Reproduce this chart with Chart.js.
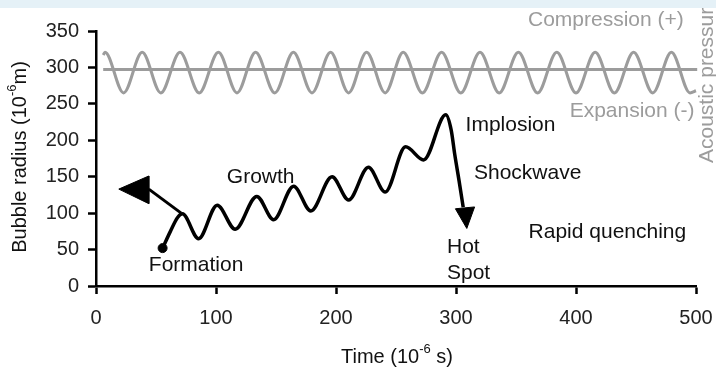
<!DOCTYPE html>
<html><head><meta charset="utf-8">
<script src="https://cdn.jsdelivr.net/npm/chart.js@4"></script>
<style>html,body{margin:0;padding:0;background:#fff;}#wrap{width:716px;height:369px;}</style>
</head><body><div id="wrap"><canvas id="c" width="716" height="369"></canvas></div>
<script>
// ---- data ----
const xTickValues = [0, 100, 200, 300, 400, 500];
const yTickValues = [0, 50, 100, 150, 200, 250, 300, 350];

// acoustic pressure wave (peaks / troughs)
const pressureTime  = [6, 7.5, 23, 38.5, 54, 70, 86, 102, 117.5, 133, 149, 164.5, 180, 195.5, 210.5, 225.5, 241, 256, 272, 288, 304, 320, 336, 352, 368, 384, 400, 416, 432, 448, 464, 479.5, 495, 500];
const pressureValue = [317, 321, 265, 321, 265, 321, 265, 321, 265, 321, 265, 321, 265, 321, 265, 321, 265, 321, 265, 321, 265, 321, 265, 321, 265, 321, 265, 321, 265, 321, 265, 321, 265, 268];
const baselineTime  = [6, 501];
const baselineValue = [297, 297];

// bubble radius
const radiusTime  = [55.5, 62, 68, 72, 85.5, 101, 116, 134, 148, 164.7, 179, 196.7, 210.5, 227, 241, 258, 273, 291.5, 296, 299, 302.5, 306];
const radiusValue = [52, 75, 94, 99, 65, 111, 78, 123, 91, 137, 103, 150, 118, 163, 129, 191, 173, 235, 214, 180, 145, 108];

const formationTime  = [55.5];
const formationValue = [52];
const growthArrowTime  = [71, 44];
const growthArrowValue = [100, 133];
const growthHeadTime   = [19, 44, 44, 19];
const growthHeadValue  = [133, 151, 113, 133];
const hotHeadTime  = [309, 299.5, 315.5, 309];
const hotHeadValue = [79, 106, 108.5, 79];

// annotations
const noteText  = ['Growth', 'Formation', 'Implosion', 'Shockwave', 'Rapid quenching', 'Hot', 'Spot'];
const noteTime  = [109, 44, 308, 315, 360.5, 292.5, 292.5];
const noteValue = [149, 28.5, 221, 154.6, 74.3, 53.6, 17];
const pressureNoteText  = ['Compression (+)', 'Expansion (-)'];
const pressureNoteTime  = [360, 394.7];
const pressureNoteValue = [365.5, 239.3];

const FONT = '"Liberation Sans", Arial, Helvetica, sans-serif';
const GRAY = '#9c9c9c';

function pts(xs, ys) { return xs.map((x, i) => ({x, y: ys[i]})); }

function drawRich(ctx, parts, x, y) {
  let total = 0;
  parts.forEach(p => { ctx.font = p[1] + 'px ' + FONT; total += ctx.measureText(p[0]).width; });
  let cx = x - total / 2;
  parts.forEach(p => {
    ctx.font = p[1] + 'px ' + FONT;
    ctx.fillText(p[0], cx, y + p[2]);
    cx += ctx.measureText(p[0]).width;
  });
}

const textPlugin = {
  id: 'texts',
  afterDraw(chart) {
    const ctx = chart.ctx, xs = chart.scales.x, ys = chart.scales.y;
    ctx.save();
    ctx.textBaseline = 'middle';
    ctx.textAlign = 'left';
    ctx.fillStyle = '#111';
    ctx.font = '21px ' + FONT;
    noteText.forEach((t, i) => ctx.fillText(t, xs.getPixelForValue(noteTime[i]), ys.getPixelForValue(noteValue[i])));
    ctx.fillStyle = GRAY;
    pressureNoteText.forEach((t, i) => ctx.fillText(t, xs.getPixelForValue(pressureNoteTime[i]), ys.getPixelForValue(pressureNoteValue[i])));

    // axis titles
    ctx.fillStyle = '#111';
    drawRich(ctx, [['Time (10', 20, 0], ['-6', 13, -8], [' s)', 20, 0]], 397, 357);
    ctx.save();
    ctx.translate(20, 157);
    ctx.rotate(-Math.PI / 2);
    drawRich(ctx, [['Bubble radius (10', 20, 0], ['-6', 13, -8], ['m)', 20, 0]], 0, 0);
    ctx.restore();
    ctx.save();
    ctx.fillStyle = GRAY;
    ctx.translate(707, 163);
    ctx.rotate(-Math.PI / 2);
    ctx.textAlign = 'left';
    ctx.font = '21px ' + FONT;
    ctx.fillText('Acoustic pressure', 0, 0);
    ctx.restore();
    // top band
    ctx.fillStyle = '#e5f1f7';
    ctx.fillRect(0, 0, chart.width, 8);
    ctx.restore();
  }
};

const axisCommon = {
  border: {color: '#000', width: 2.5},
  grid: {drawOnChartArea: false, drawTicks: true, tickLength: 8, tickColor: '#000', tickWidth: 2.5},
  ticks: {font: {family: FONT, size: 20}, color: '#222'}
};

new Chart(document.getElementById('c'), {
  type: 'scatter',
  data: {
    datasets: [
      {data: pts(pressureTime, pressureValue), showLine: true, borderColor: GRAY, borderWidth: 3, pointRadius: 0, cubicInterpolationMode: 'monotone', clip: false},
      {data: pts(baselineTime, baselineValue), showLine: true, borderColor: GRAY, borderWidth: 3, pointRadius: 0, clip: false},
      {data: pts(radiusTime, radiusValue), showLine: true, borderColor: '#000', borderWidth: 3.5, pointRadius: 0, cubicInterpolationMode: 'monotone', clip: false},
      {data: pts(growthArrowTime, growthArrowValue), showLine: true, borderColor: '#000', borderWidth: 3, pointRadius: 0, clip: false},
      {data: pts(growthHeadTime, growthHeadValue), showLine: true, borderColor: '#000', backgroundColor: '#000', borderWidth: 1, pointRadius: 0, fill: 'shape', clip: false},
      {data: pts(hotHeadTime, hotHeadValue), showLine: true, borderColor: '#000', backgroundColor: '#000', borderWidth: 1, pointRadius: 0, fill: 'shape', clip: false},
      {data: pts(formationTime, formationValue), pointRadius: 4.5, pointBackgroundColor: '#000', pointBorderColor: '#000', clip: false}
    ]
  },
  options: {
    responsive: false,
    devicePixelRatio: 1,
    animation: false,
    layout: {padding: {top: 31, right: 20, left: 0, bottom: 0}},
    plugins: {legend: {display: false}, tooltip: {enabled: false}},
    scales: {
      x: Object.assign({}, axisCommon, {
        type: 'linear', min: 0, max: 500,
        afterFit(s) { s.height = 83; s.paddingLeft = 0; s.paddingRight = 0; },
        afterBuildTicks(s) { s.ticks = xTickValues.map(v => ({value: v})); },
        ticks: Object.assign({}, axisCommon.ticks, {padding: 12})
      }),
      y: Object.assign({}, axisCommon, {
        type: 'linear', min: 0, max: 350,
        afterFit(s) { s.width = 96; s.paddingTop = 0; s.paddingBottom = 0; },
        afterBuildTicks(s) { s.ticks = yTickValues.map(v => ({value: v})); },
        ticks: Object.assign({}, axisCommon.ticks, {padding: 9})
      })
    }
  },
  plugins: [textPlugin]
});
</script>
</body></html>
